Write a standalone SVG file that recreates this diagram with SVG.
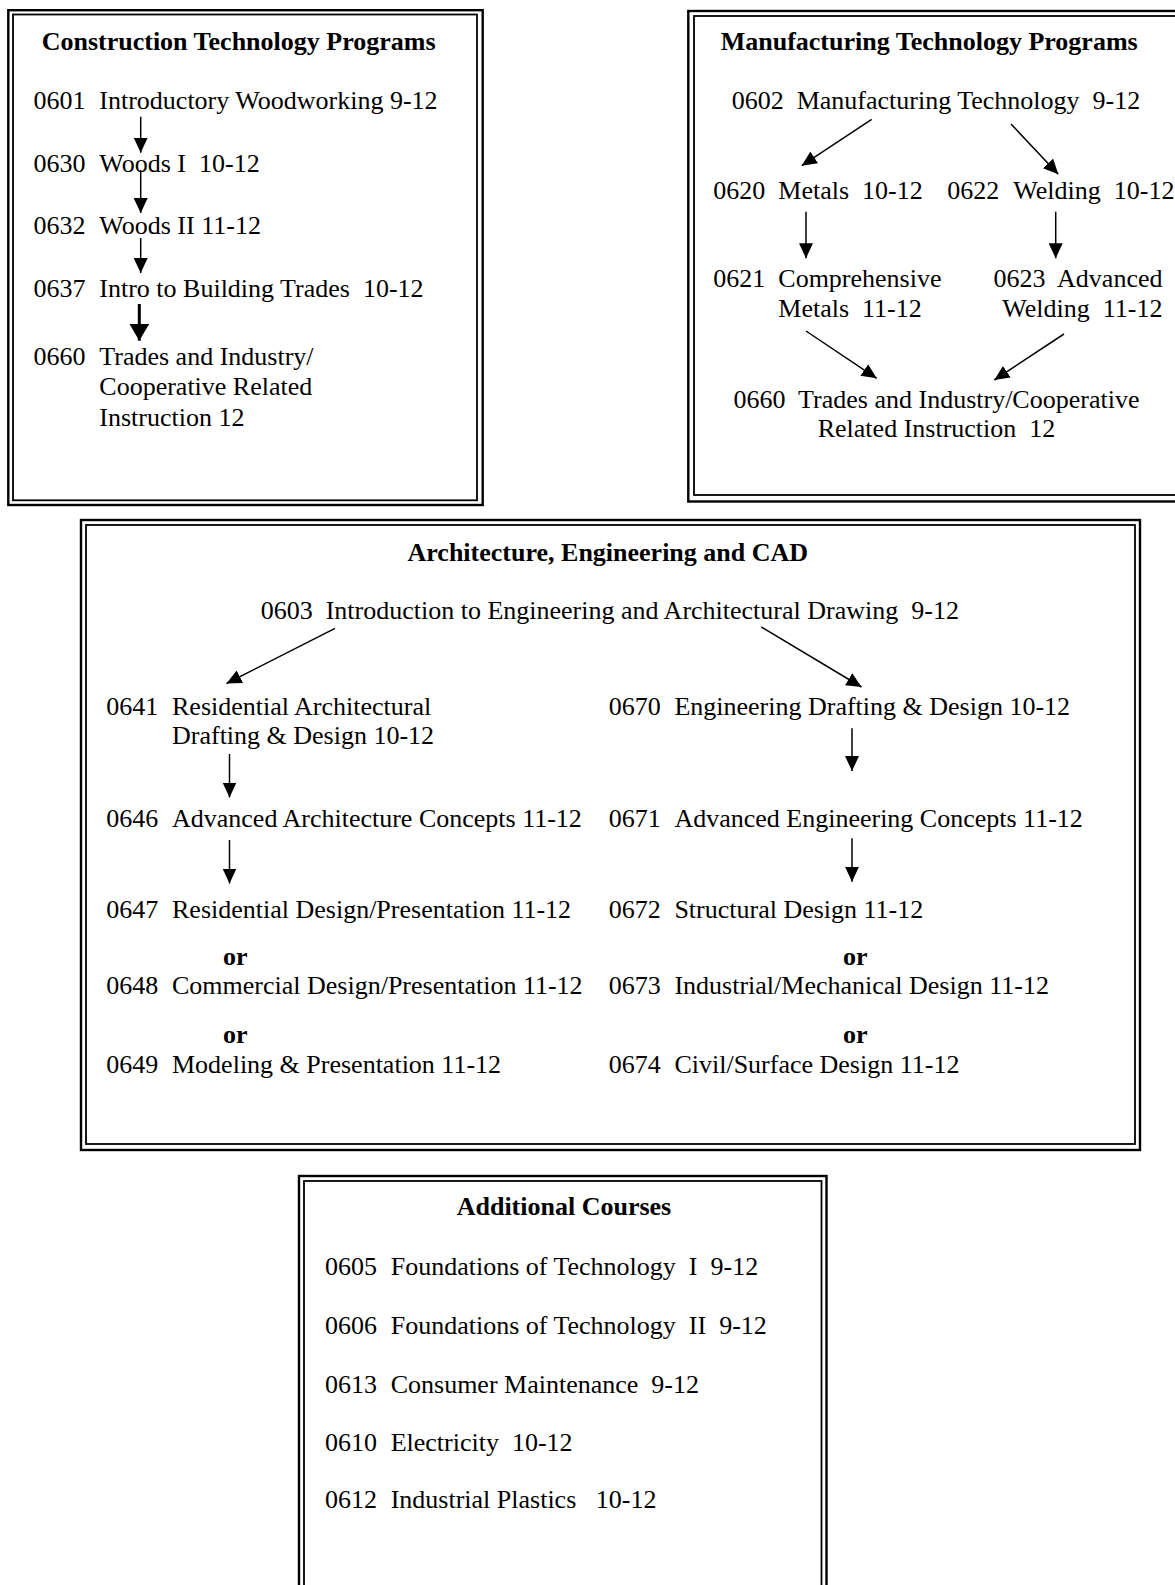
<svg xmlns="http://www.w3.org/2000/svg" width="1175" height="1585" viewBox="0 0 1175 1585" xml:space="preserve">
<style>
text{font-family:"Liberation Serif","Times New Roman",serif;font-size:26px;fill:#000;white-space:pre}
.h{font-weight:bold;font-size:26px}
.or{font-weight:bold}
.outer{fill:none;stroke:#000;stroke-width:2.4}
.inner{fill:none;stroke:#000;stroke-width:1.8}
.c line{stroke:#000;stroke-width:1.5;marker-end:url(#ah)}
.c line.thick{stroke-width:3;marker-end:url(#ahb)}
</style>
<defs>
<marker id="ah" markerUnits="userSpaceOnUse" markerWidth="15" markerHeight="14" viewBox="0 0 15 14" refX="15" refY="7" orient="auto"><path d="M0,0 L15,7 L0,14 z" fill="#000"/></marker>
<marker id="ahb" markerUnits="userSpaceOnUse" markerWidth="17" markerHeight="20" viewBox="0 0 17 20" refX="17" refY="10" orient="auto"><path d="M0,0 L17,10 L0,20 z" fill="#000"/></marker>
</defs>
<rect width="1175" height="1585" fill="#fff"/>

<g id="construction">
<rect class="outer" x="8.3" y="10.2" width="474.4" height="494.8"/>
<rect class="inner" x="13" y="14.5" width="464" height="485.8"/>
<text class="h" x="41.7" y="50">Construction Technology Programs</text>
<g id="c0601"><text x="33.5" y="109.3">0601<tspan x="99.3">Introductory Woodworking 9-12</tspan></text></g>
<g id="c0630"><text x="33.5" y="171.7">0630<tspan x="99.3">Woods I  10-12</tspan></text></g>
<g id="c0632"><text x="33.5" y="234.3">0632<tspan x="99.3">Woods II 11-12</tspan></text></g>
<g id="c0637"><text x="33.5" y="296.7">0637<tspan x="99.3">Intro to Building Trades  10-12</tspan></text></g>
<g id="c0660"><text x="33.5" y="365">0660<tspan x="99.3">Trades and Industry/</tspan></text>
<text x="99.3" y="395">Cooperative Related</text>
<text x="99.3" y="426">Instruction 12</text></g>
</g>

<g id="manufacturing">
<rect class="outer" x="688.3" y="11" width="520" height="490.5"/>
<rect class="inner" x="694" y="16" width="500" height="479"/>
<text class="h" x="720.7" y="50">Manufacturing Technology Programs</text>
<g id="m0602"><text x="731.7" y="109.3">0602  Manufacturing Technology  9-12</text></g>
<g id="m0620"><text x="713.3" y="199">0620<tspan x="778.3">Metals  10-12</tspan></text></g>
<g id="m0622"><text x="947.3" y="199">0622<tspan x="1013.3">Welding  10-12</tspan></text></g>
<g id="m0621"><text x="713.3" y="287.3">0621<tspan x="778.3">Comprehensive</tspan></text>
<text x="778.3" y="317.3">Metals  11-12</text></g>
<g id="m0623"><text x="1162.5" y="287.3" text-anchor="end">0623  Advanced</text>
<text x="1162.5" y="317.3" text-anchor="end">Welding  11-12</text></g>
<g id="m0660"><text x="936.5" y="408.3" text-anchor="middle">0660  Trades and Industry/Cooperative</text>
<text x="936.5" y="437.3" text-anchor="middle">Related Instruction  12</text></g>
</g>

<g id="architecture">
<rect class="outer" x="81" y="520" width="1059" height="630"/>
<rect class="inner" x="86" y="525" width="1049" height="619"/>
<text class="h" x="407.5" y="560.5">Architecture, Engineering and CAD</text>
<g id="a0603"><text x="260.7" y="618.5">0603  Introduction to Engineering and Architectural Drawing  9-12</text></g>
<g id="a0641"><text x="106.3" y="714.5">0641<tspan x="172">Residential Architectural</tspan></text>
<text x="172" y="743.5">Drafting &amp; Design 10-12</text></g>
<g id="a0670"><text x="608.7" y="714.5">0670<tspan x="674.4">Engineering Drafting &amp; Design 10-12</tspan></text></g>
<g id="a0646"><text x="106.3" y="827">0646<tspan x="172">Advanced Architecture Concepts 11-12</tspan></text></g>
<g id="a0671"><text x="608.7" y="827">0671<tspan x="674.4">Advanced Engineering Concepts 11-12</tspan></text></g>
<g id="a0647"><text x="106.3" y="917.5">0647<tspan x="172">Residential Design/Presentation 11-12</tspan></text></g>
<g id="a0672"><text x="608.7" y="917.5">0672<tspan x="674.4">Structural Design 11-12</tspan></text></g>
<text class="or" x="223" y="965">or</text>
<text class="or" x="843" y="965">or</text>
<g id="a0648"><text x="106.3" y="994">0648<tspan x="172">Commercial Design/Presentation 11-12</tspan></text></g>
<g id="a0673"><text x="608.7" y="994">0673<tspan x="674.4">Industrial/Mechanical Design 11-12</tspan></text></g>
<text class="or" x="223" y="1043.3">or</text>
<text class="or" x="843" y="1043.3">or</text>
<g id="a0649"><text x="106.3" y="1072.7">0649<tspan x="172">Modeling &amp; Presentation 11-12</tspan></text></g>
<g id="a0674"><text x="608.7" y="1072.7">0674<tspan x="674.4">Civil/Surface Design 11-12</tspan></text></g>
</g>

<g id="additional">
<rect class="outer" x="299" y="1176" width="527.5" height="500"/>
<rect class="inner" x="304" y="1181" width="517.5" height="500"/>
<text class="h" x="456.7" y="1214.5">Additional Courses</text>
<g id="d0605"><text x="325" y="1275">0605<tspan x="390.7">Foundations of Technology  I  9-12</tspan></text></g>
<g id="d0606"><text x="325" y="1334">0606<tspan x="390.7">Foundations of Technology  II  9-12</tspan></text></g>
<g id="d0613"><text x="325" y="1392.7">0613<tspan x="390.7">Consumer Maintenance  9-12</tspan></text></g>
<g id="d0610"><text x="325" y="1450.7">0610<tspan x="390.7">Electricity  10-12</tspan></text></g>
<g id="d0612"><text x="325" y="1508.3">0612<tspan x="390.7">Industrial Plastics   10-12</tspan></text></g>
</g>

<g id="connectors" class="c">
<line x1="140.7" y1="116.7" x2="140.7" y2="152.7"/>
<line x1="140.7" y1="170" x2="140.7" y2="213"/>
<line x1="140.7" y1="238" x2="140.7" y2="273"/>
<line class="thick" x1="139.3" y1="304" x2="139.3" y2="340.7"/>
<line x1="871.7" y1="119.3" x2="801.7" y2="165.7"/>
<line x1="1011" y1="124" x2="1058.3" y2="174.3"/>
<line x1="806" y1="211.7" x2="806" y2="258.3"/>
<line x1="1055.7" y1="211.7" x2="1055.7" y2="258.3"/>
<line x1="806" y1="331" x2="876.7" y2="378.3"/>
<line x1="1064" y1="334" x2="994.3" y2="380"/>
<line x1="335" y1="628.3" x2="226.5" y2="683.5"/>
<line x1="761.4" y1="627" x2="861.5" y2="687"/>
<line x1="229.5" y1="754" x2="229.5" y2="797.5"/>
<line x1="852" y1="728.3" x2="852" y2="771"/>
<line x1="229.5" y1="840" x2="229.5" y2="883.5"/>
<line x1="852" y1="838.3" x2="852" y2="881.7"/>
</g>
</svg>
